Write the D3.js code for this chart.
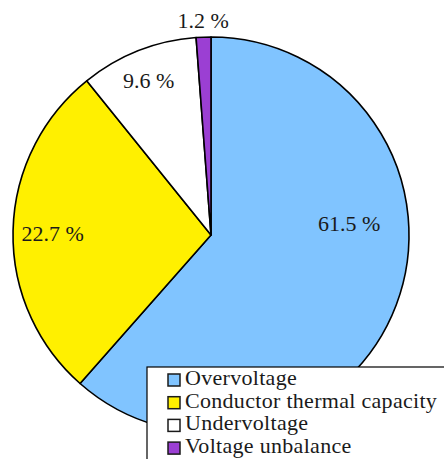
<!DOCTYPE html>
<html>
<head>
<meta charset="utf-8">
<script src="https://cdn.jsdelivr.net/npm/d3@7"></script>
<style>
html,body{margin:0;padding:0;background:#fff;}
svg{display:block;}
</style>
</head>
<body>
<svg id="chart" width="444" height="459"></svg>
<script>
// Data
const categories = ["Overvoltage", "Conductor thermal capacity", "Undervoltage", "Voltage unbalance"];
const values = [61.5, 27.7, 9.6, 1.2];          // slice sizes as drawn
const valueLabels = ["61.5 %", "22.7 %", "9.6 %", "1.2 %"]; // label text as printed
const colors = ["#80C4FF", "#FFF000", "#FFFFFF", "#9B3FD3"];

// Layout (label placement: angle in degrees clockwise from top, radius fraction)
const labelPolar = [[85.5, 0.70], [270.4, 0.80], [338, 0.84], [357.9, 1.08]];
const FONT = "'Liberation Serif', 'Times New Roman', Tinos, 'DejaVu Serif', serif";

const svg = d3.select("#chart");
const cx = 211, cy = 235, R = 198;

const pie = d3.pie().sort(null).value(d => d).startAngle(0).endAngle(2 * Math.PI);
const arcs = pie(values);
const arc = d3.arc().innerRadius(0).outerRadius(R);

const g = svg.append("g").attr("transform", `translate(${cx},${cy})`);
g.selectAll("path.slice")
  .data(arcs)
  .enter().append("path")
  .attr("class", "slice")
  .attr("d", arc)
  .attr("fill", (d, i) => colors[i])
  .attr("stroke", "#000")
  .attr("stroke-width", 1.6)
  .attr("stroke-linejoin", "round");

g.selectAll("text.lbl")
  .data(arcs)
  .enter().append("text")
  .attr("class", "lbl")
  .attr("x", (d, i) => Math.sin(labelPolar[i][0] * Math.PI / 180) * labelPolar[i][1] * R)
  .attr("y", (d, i) => -Math.cos(labelPolar[i][0] * Math.PI / 180) * labelPolar[i][1] * R + 7)
  .attr("text-anchor", "middle")
  .style("font-family", FONT)
  .attr("font-size", 22)
  .attr("fill", "#1a1a1a")
  .text((d, i) => valueLabels[i]);

// Legend
const lg = svg.append("g").attr("transform", "translate(147,367)");
lg.append("rect")
  .attr("x", 0).attr("y", 0)
  .attr("width", 310).attr("height", 110)
  .attr("fill", "#fff")
  .attr("stroke", "#000")
  .attr("stroke-width", 1.2);

const items = lg.selectAll("g.item")
  .data(categories)
  .enter().append("g")
  .attr("class", "item")
  .attr("transform", (d, i) => `translate(0,${18 + i * 22.7})`);

items.append("rect")
  .attr("x", 21).attr("y", -11)
  .attr("width", 12).attr("height", 12)
  .attr("fill", (d, i) => colors[i])
  .attr("stroke", "#1a1a1a")
  .attr("stroke-width", 1.5);

items.append("text")
  .attr("x", 38).attr("y", 0)
  .style("font-family", FONT)
  .attr("font-size", 22)
  .attr("fill", "#1a1a1a")
  .attr("letter-spacing", 0.3)
  .text(d => d);
</script>
</body>
</html>
